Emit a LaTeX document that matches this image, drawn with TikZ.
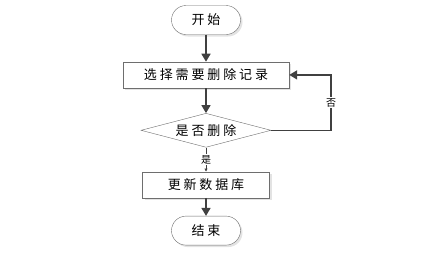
\documentclass[tikz,border=0pt]{standalone}
\usepackage{fontspec}
\newfontfamily\cjk[LetterSpace=22]{Noto Sans CJK SC}
\usetikzlibrary{arrows.meta,positioning,shapes.geometric,shadows,calc}
\definecolor{edge}{RGB}{110,110,110}
\definecolor{ink}{RGB}{64,64,64}
\definecolor{shade}{RGB}{200,200,200}
\tikzset{
  terminal/.style={draw=edge, fill=white, rounded corners=14.5pt, minimum width=69pt,
                   minimum height=29pt, font=\cjk\fontsize{13}{15}\selectfont,
                   drop shadow={shadow xshift=2pt, shadow yshift=-2pt, fill=shade}},
  process/.style={draw=edge, fill=white, minimum height=26pt, font=\cjk\fontsize{13}{15}\selectfont,
                  drop shadow={shadow xshift=2pt, shadow yshift=-2pt, fill=shade}},
  decide/.style={diamond, draw=edge, fill=white, aspect=3.8, inner sep=0pt, minimum width=130pt,
                 minimum height=34pt, font=\cjk\fontsize{13}{15}\selectfont},
  flow/.style={-{Triangle[length=8pt,width=9pt]}, line width=1.6pt, draw=ink},
  thin/.style={-{Triangle[length=3pt,width=3pt]}, line width=.6pt, draw=ink},
  tag/.style={fill=white, inner sep=1pt, font=\cjk\fontsize{10}{12}\selectfont}
}
\begin{document}
\begin{tikzpicture}[node distance=26pt]
  \path[use as bounding box] (0pt,0pt) rectangle (430pt,-269pt);
  \node[terminal] (start) at (206pt,-20pt) {开始};
  \node[process, minimum width=166pt, below=27pt of start] (pick) {选择需要删除记录};
  \node[decide, below=25pt of pick] (ask) {是否删除};
  \node[process, minimum width=127pt, below=24pt of ask] (update) {更新数据库};
  \node[terminal, below=18pt of update] (stop) {结束};
  \coordinate (bend) at ($(ask.east)+(60pt,0)$);
  \draw[flow] (start) -- (pick);
  \draw[flow] (pick) -- (ask);
  \draw[thin] (ask) -- node[tag] {是} (update);
  \draw[flow] (update) -- (stop);
  \draw[flow] (ask.east) -- (bend) |- node[tag, pos=.25] {否} (pick.east);
\end{tikzpicture}
\end{document}
